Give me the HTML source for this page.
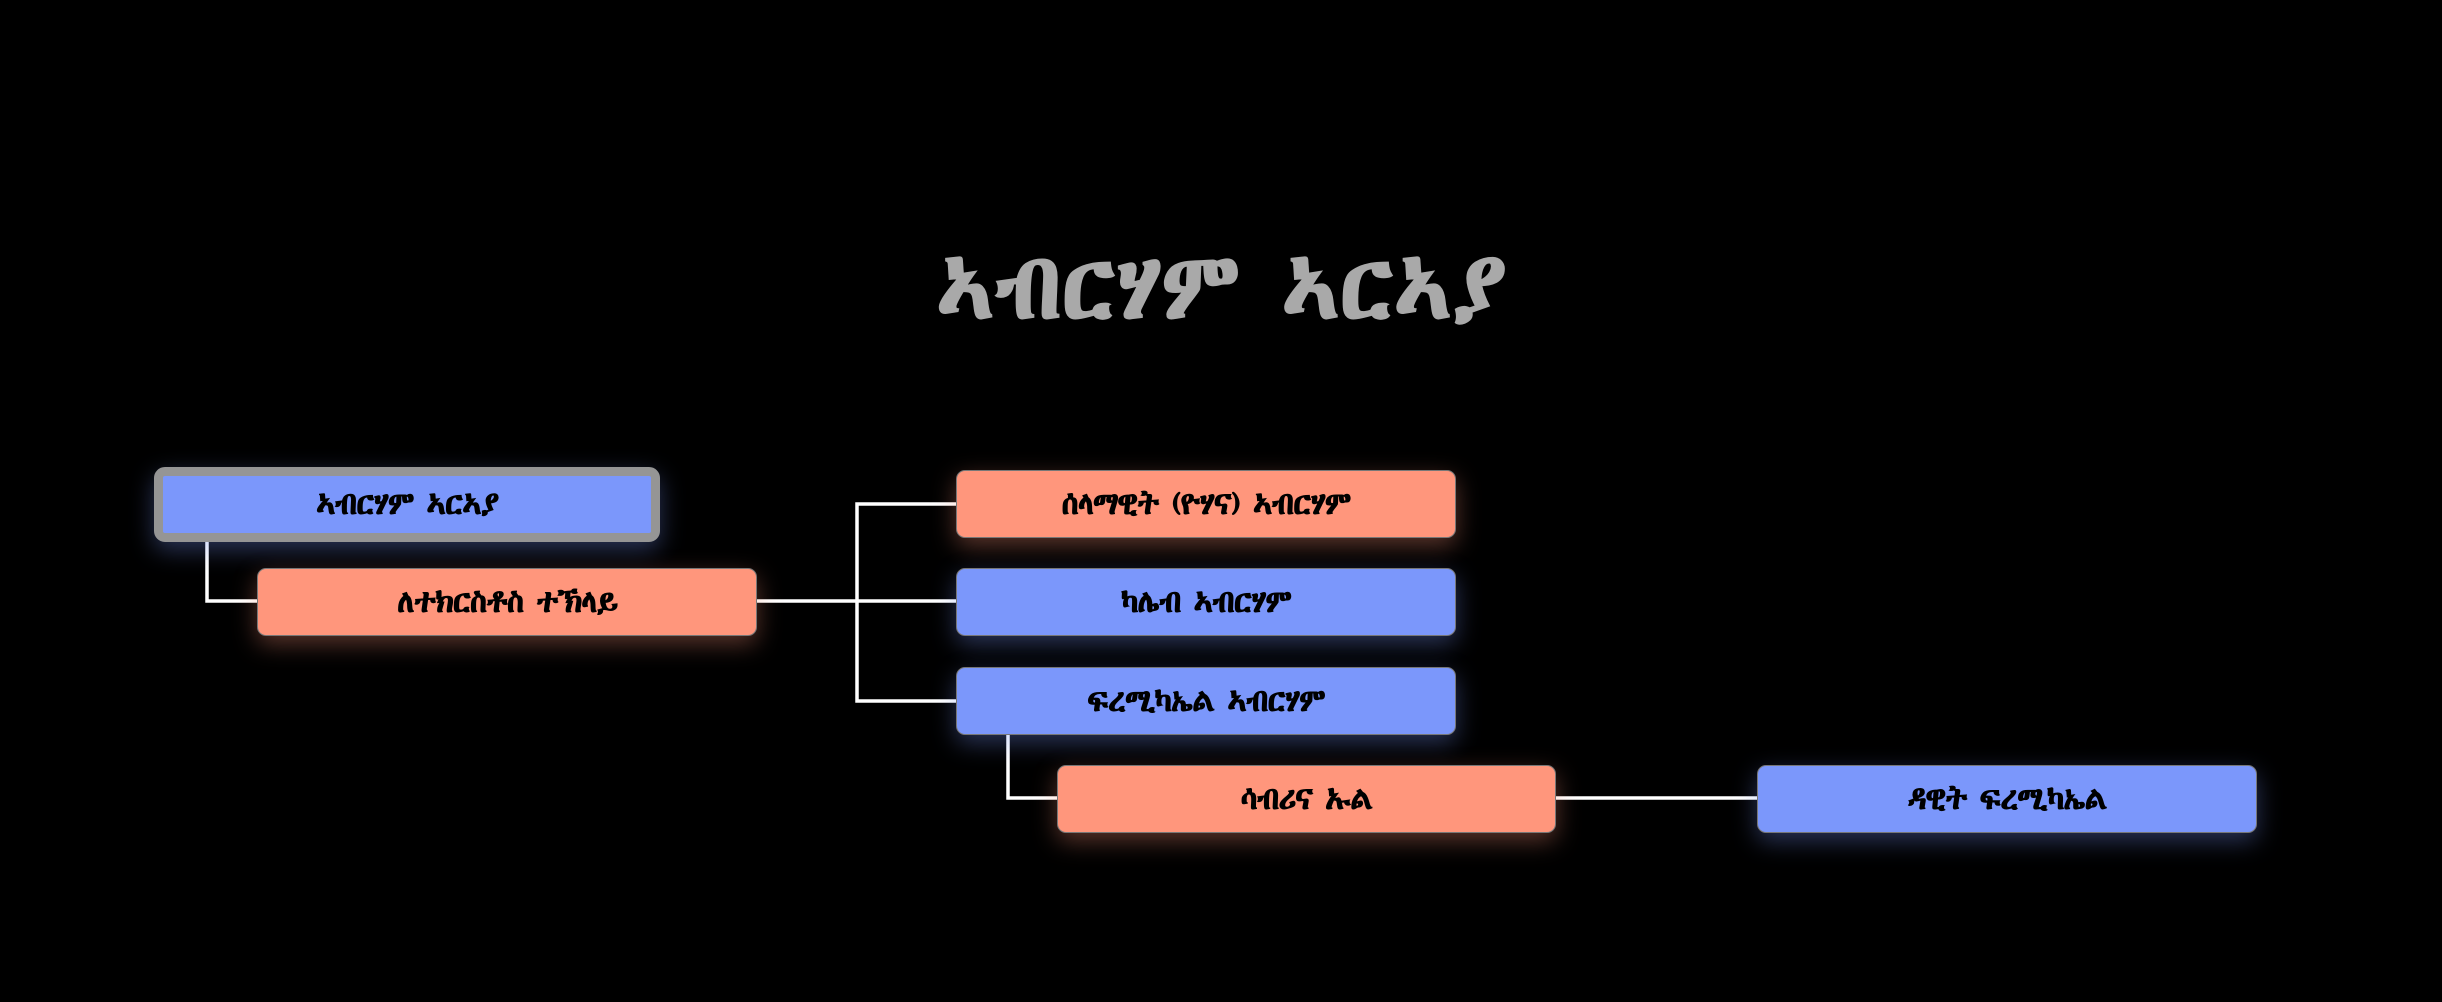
<!DOCTYPE html>
<html><head><meta charset="utf-8"><style>
html,body{margin:0;padding:0;background:#000;}
body{width:2442px;height:1002px;position:relative;overflow:hidden;font-family:"Abyssinica SIL","Noto Sans Ethiopic","Liberation Sans","DejaVu Sans",sans-serif;}
.t{position:absolute;left:0;width:2442px;top:238px;text-align:center;color:#a9a9a9;font-size:92px;font-weight:bold;line-height:100px;}
.n{position:absolute;box-sizing:border-box;border-radius:9px;display:flex;align-items:center;justify-content:center;color:#000;font-size:31px;font-weight:bold;letter-spacing:-1px;border:1.5px solid #777;}
.b{background:#7b97fb;box-shadow:0 8px 24px rgba(120,150,250,.35);}
.s{background:#ff967c;box-shadow:0 8px 24px rgba(255,150,124,.35);}
svg{position:absolute;left:0;top:0;}
</style></head><body>
<div class="t">ኣብርሃም ኣርኣያ</div>
<svg width="2442" height="1002"><g stroke="#fff" stroke-width="3.5" fill="none">
<polyline points="207,542 207,601 257,601"/>
<line x1="757" y1="601" x2="956" y2="601"/>
<polyline points="956,504 857,504 857,701 956,701"/>
<polyline points="1008,733 1008,798 1057,798"/>
<line x1="1556" y1="798" x2="1757" y2="798"/>
</g></svg>
<div class="n b" style="left:154px;top:467px;width:506px;height:75px;border:9px solid #959595;border-radius:11px;">ኣብርሃም ኣርኣያ</div>
<div class="n s" style="left:257px;top:568px;width:500px;height:68px;">ለተክርስቶስ ተኽላይ</div>
<div class="n s" style="left:956px;top:470px;width:500px;height:68px;">ሰላማዊት (ዮሃና) ኣብርሃም</div>
<div class="n b" style="left:956px;top:568px;width:500px;height:68px;">ካሌብ ኣብርሃም</div>
<div class="n b" style="left:956px;top:667px;width:500px;height:68px;">ፍረሚካኤል ኣብርሃም</div>
<div class="n s" style="left:1057px;top:765px;width:499px;height:68px;">ሳብሪና ኡል</div>
<div class="n b" style="left:1757px;top:765px;width:500px;height:68px;">ዳዊት ፍረሚካኤል</div>
</body></html>
